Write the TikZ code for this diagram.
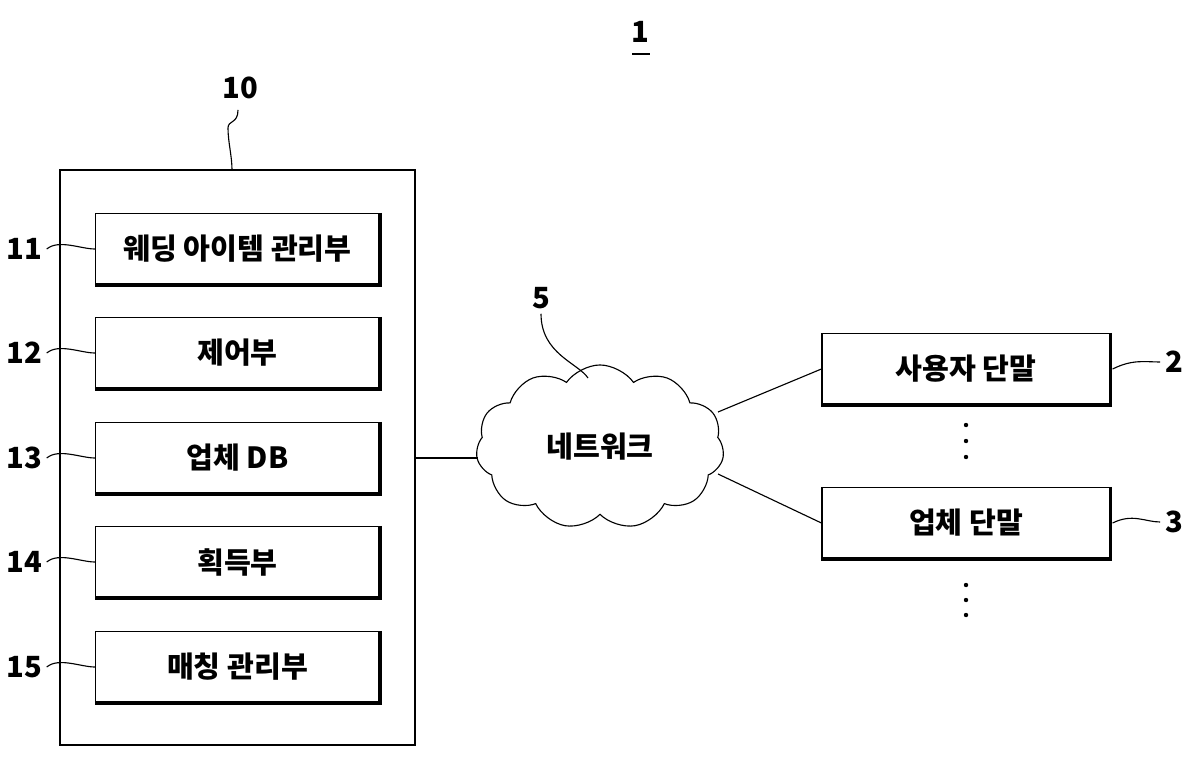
\documentclass[tikz,border=0pt]{standalone}
\usepackage{fontspec}
\setmainfont{Noto Sans CJK KR}
\usetikzlibrary{positioning,shapes.symbols}

\tikzset{
  unit/.style={draw,thick,minimum width=7.1cm,minimum height=1.78cm,font=\huge\bfseries,inner sep=0pt},
  shade/.style={line width=2.4pt},
  lead/.style={thick},
  num/.style={font=\huge\bfseries}
}

\begin{document}
\begin{tikzpicture}[x=0.025cm,y=-0.025cm]
    \useasboundingbox (0,0) rectangle (1200,766);

    % system label
    \node [num] (sys) at (640,32) {1};
    \draw [thick] (632,54) -- (650,54);

    % server
    \draw [thick] (60,170) rectangle (415,745);
    \coordinate (srvtop) at (232,170);
    \coordinate (srvright) at (415,458);
    \node [num] (n10) at (240,88) {10};
    \draw [lead] (n10.south) ++(-2,6) .. controls +(0,14) and +(0,-8) .. (228,128)
        .. controls +(0,14) and +(0,-14) .. (srvtop);

    % units
    \foreach \i/\y/\t in {11/249/웨딩 아이템 관리부,12/353/제어부,13/458/업체 DB,14/562/획득부,15/667/매칭 관리부}{
      \node [unit] (u\i) at (237.5,\y) {\t};
      \draw [shade] (u\i.north east) -- (u\i.south east) -- (u\i.south west);
      \node [num] (l\i) at (24,\y) {\i};
      \draw [lead] (l\i.east) .. controls +(12,-10) and +(-14,0) .. (u\i.west);
    }

    % network
    \node [cloud,draw,thick,cloud puffs=11,cloud puff arc=110,aspect=1.6,
           minimum width=6.2cm,minimum height=4.1cm,font=\huge\bfseries] (net) at (600,447) {네트워크};
    \node [num] (n5) at (541,298) {5};
    \draw [lead] (n5.south) .. controls +(0,40) and +(-10,-15) .. (588,378);
    \draw [thick] (srvright) -- (478,458);

    % terminals
    \node [unit,minimum width=7.2cm] (user) at (966,369) {사용자 단말};
    \draw [shade] (user.north east) -- (user.south east) -- (user.south west);
    \node [unit,minimum width=7.2cm] (corp) at (966,523) {업체 단말};
    \draw [shade] (corp.north east) -- (corp.south east) -- (corp.south west);
    \node [num] (n2) at (1174,362) {2};
    \node [num] (n3) at (1174,522) {3};
    \draw [lead] (user.east) ++(2,0) .. controls +(20,-10) and +(-15,0) .. (n2.west);
    \draw [lead] (corp.east) ++(2,0) .. controls +(20,-10) and +(-15,0) .. (n3.west);
    \draw [thick] (718,412) -- (user.west);
    \draw [thick] (718,474) -- (corp.west);

    % dots
    \foreach \y in {425,441,457,585,600,615}
      \fill (966,\y) circle (2.2);
\end{tikzpicture}
\end{document}
